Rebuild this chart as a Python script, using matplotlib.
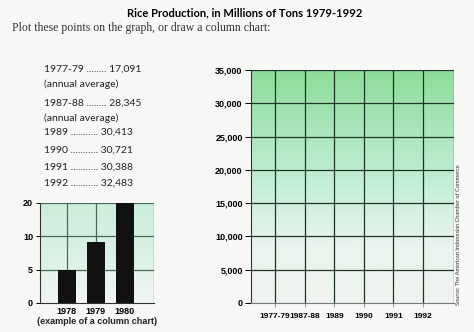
import numpy as np
import matplotlib
matplotlib.use('Agg')
import matplotlib.pyplot as plt
from matplotlib.colors import LinearSegmentedColormap

# --- data ---
list_labels = ['1977-79', '1987-88', '1989', '1990', '1991', '1992']
list_dots = ['........', '........', '...........', '...........', '...........', '...........']
list_values = ['17,091', '28,345', '30,413', '30,721', '30,388', '32,483']
list_notes = ['(annual average)', '(annual average)', '', '', '', '']

example_years = ['1978', '1979', '1980']
example_values = [4.9, 9.1, 20]
example_ticks = [0, 5, 10, 20]

big_categories = ['1977-79', '1987-88', '1989', '1990', '1991', '1992']
big_ticks = [0, 5000, 10000, 15000, 20000, 25000, 30000, 35000]

page_bg = '#f7f8f6'
tick_font = 'Liberation Sans'


def gradient(ax, colors):
    cmap = LinearSegmentedColormap.from_list('g', colors)
    grad = np.linspace(0, 1, 256).reshape(-1, 1)
    ax.imshow(grad, cmap=cmap, aspect='auto', extent=(0, 1, 0, 1),
              transform=ax.transAxes, origin='lower', zorder=0)


fig = plt.figure(figsize=(4.74, 3.32), dpi=100)
fig.patch.set_facecolor(page_bg)

fig.text(0.517, 0.962, 'Rice Production, in Millions of Tons 1979-1992',
         ha='center', va='center', fontsize=8, fontweight='bold', family='Lato')
fig.text(0.025, 0.915, 'Plot these points on the graph, or draw a column chart:',
         ha='left', va='center', fontsize=8.5, family='Liberation Serif', color='#333333')

# --- data list on the left ---
y_rows = [69, 103, 132, 150, 167, 183]
for lab, dots, val, note, yp in zip(list_labels, list_dots, list_values, list_notes, y_rows):
    fy = 1 - yp / 332
    fig.text(44 / 474, fy, f'{lab} {dots} {val}', ha='left', va='center',
             fontsize=7.5, family='Lato', color='#222222')
    if note:
        fig.text(44 / 474, fy - 15 / 332, note, ha='left', va='center',
                 fontsize=7.5, family='Lato', color='#222222')

# --- small example column chart ---
fwd = lambda y: np.where(y <= 10, y, 10 + (y - 10) / 2)
inv = lambda y: np.where(y <= 10, y, 10 + (y - 10) * 2)

ax1 = fig.add_axes([40 / 474, 29 / 332, 114 / 474, 100 / 332])
ax1.set_yscale('function', functions=(fwd, inv))
gradient(ax1, ['#f2f6f3', '#d9f1e4', '#cdeedb'])
x1 = np.arange(len(example_years))
ax1.bar(x1, example_values, width=0.62, color='#111111', zorder=3)
ax1.set_xlim(-0.92, 3.0)
ax1.set_ylim(0, 20)
ax1.set_yticks(example_ticks)
ax1.set_yticklabels([str(t) for t in example_ticks], fontsize=6.5, family=tick_font, fontweight='bold')
ax1.set_xticks(x1)
ax1.set_xticklabels(example_years, fontsize=6.5, family=tick_font, fontweight='bold')
for v in [5, 10]:
    ax1.axhline(v, color='#4a6a58', lw=0.9, zorder=2)
for xv in list(x1 + 0.02) + [3.0]:
    ax1.axvline(xv, color='#4a6a58', lw=0.9, zorder=2)
ax1.axhline(20, color='#4a6a58', lw=0.9, zorder=2)
for s in ['top', 'right']:
    ax1.spines[s].set_visible(False)
ax1.spines['left'].set_color('#333333')
ax1.spines['bottom'].set_color('#333333')
ax1.tick_params(axis='y', length=3, width=0.7, pad=2)
ax1.tick_params(axis='x', length=0, pad=3)
fig.text(97 / 474, 1 - 322 / 332, '(example of a column chart)', ha='center', va='center',
         fontsize=6.5, family=tick_font, fontweight='bold', color='#222222')

# --- empty chart to fill in ---
ax2 = fig.add_axes([251 / 474, 29 / 332, 203 / 474, 233 / 332])
gradient(ax2, ['#eff3f0', '#eaf3ee', '#c6eed8', '#a8e6bb', '#8edc9b'])
x2 = np.arange(len(big_categories))
ax2.set_xlim(-0.82, 6.05)
ax2.set_ylim(0, 35000)
ax2.set_yticks(big_ticks)
ax2.set_yticklabels([f'{t:,}' for t in big_ticks], fontsize=6.5, family=tick_font, fontweight='bold')
ax2.set_xticks(x2)
ax2.set_xticklabels(big_categories, fontsize=6, family=tick_font, fontweight='bold')
for v in big_ticks[1:]:
    ax2.axhline(v, color='#1e3526', lw=0.9, zorder=2)
for xv in list(x2) + [6.05]:
    ax2.axvline(xv, color='#1e3526', lw=0.9, zorder=2)
for s in ['top', 'right']:
    ax2.spines[s].set_visible(False)
ax2.spines['left'].set_color('#333333')
ax2.spines['bottom'].set_color('#777777')
ax2.tick_params(axis='y', length=4, width=0.7, pad=2)
ax2.tick_params(axis='x', length=3, width=0.7, color='#999999', pad=4)

fig.text(458 / 474, 1 - 305 / 332, 'Source: The American Indonesian Chamber of Commerce',
         rotation=90, ha='center', va='bottom', fontsize=4.1, family='Lato', color='#333333')

fig.savefig('out.png', dpi=100, facecolor=fig.get_facecolor())
